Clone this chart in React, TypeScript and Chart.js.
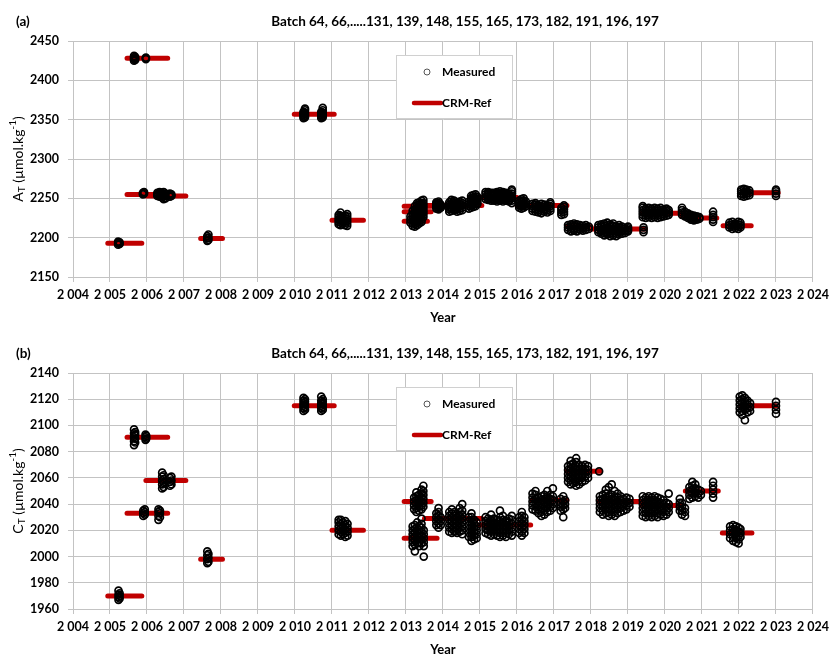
import { useEffect, useRef } from 'react';
import { Chart, registerables } from 'chart.js';

Chart.register(...registerables);

const FONT = 'Lato, "Open Sans", "DejaVu Sans", sans-serif';
const RED = '#c00000';
const GRID = '#c3c3c3';

const panelTitle = 'Batch 64, 66,.....131, 139, 148, 155, 165, 173, 182, 191, 196, 197';
const yearMin = 2004;
const yearMax = 2024;
const legendLabels = ['Measured', 'CRM-Ref'];

// ---------- Panel (a): total alkalinity A_T ----------
const atAxis = [2150, 2450, 50]; // min, max, step

// CRM reference values: [start year, end year, value]
const atReference = [
  [2004.94, 2005.86, 2193],
  [2005.46, 2006.56, 2428],
  [2005.46, 2006.56, 2255],
  [2005.97, 2007.05, 2253],
  [2007.45, 2008.04, 2199],
  [2009.98, 2011.06, 2357],
  [2011.0, 2011.85, 2222],
  [2012.95, 2013.68, 2240],
  [2012.95, 2013.68, 2233],
  [2012.95, 2013.58, 2221],
  [2013.55, 2015.05, 2241],
  [2015.0, 2016.0, 2251],
  [2016.0, 2017.35, 2241],
  [2017.35, 2018.0, 2214],
  [2018.0, 2019.47, 2211],
  [2019.37, 2020.45, 2231],
  [2020.45, 2020.95, 2227],
  [2020.95, 2021.4, 2225],
  [2021.57, 2022.33, 2215],
  [2022.17, 2023.06, 2257],
];

// Measured values: [measurement date (year), [values...]]
const atMeasured = [
  [2005.22, [2191, 2193, 2195]], [2005.26, [2192, 2194]],
  [2005.65, [2425, 2427, 2429, 2431]], [2005.68, [2426, 2428, 2430]], [2005.97, [2427, 2428, 2429]],
  [2005.89, [2255, 2257]], [2005.92, [2256, 2258]],
  [2006.28, [2253, 2255, 2257]], [2006.34, [2252, 2254, 2256, 2258]], [2006.4, [2251, 2253, 2255, 2257]],
  [2006.45, [2249, 2252, 2255, 2258]], [2006.5, [2250, 2253, 2256]],
  [2006.62, [2252, 2254, 2256]], [2006.66, [2253, 2255]],
  [2007.63, [2196, 2199, 2202]], [2007.66, [2197, 2200, 2204]],
  [2010.23, [2352, 2354, 2356, 2358, 2360]], [2010.27, [2353, 2355, 2357, 2359, 2362, 2364]],
  [2010.71, [2352, 2354, 2356, 2358, 2360]], [2010.75, [2353, 2355, 2357, 2359, 2362, 2365]],
  [2011.18, [2217, 2220, 2223, 2226, 2229]], [2011.23, [2216, 2219, 2222, 2225, 2228, 2232]],
  [2011.28, [2218, 2221, 2224, 2227]], [2011.35, [2216, 2219, 2222, 2225, 2228]],
  [2011.41, [2215, 2218, 2221, 2224, 2227, 2230]],
  [2013.12, [2219, 2223, 2227]],
  [2013.18, [2215, 2218, 2221, 2224, 2227, 2230, 2234]],
  [2013.24, [2214, 2217, 2220, 2223, 2226, 2229, 2232, 2236, 2240]],
  [2013.3, [2216, 2219, 2222, 2225, 2228, 2231, 2234, 2237, 2241, 2244]],
  [2013.36, [2218, 2221, 2224, 2227, 2230, 2233, 2236, 2239, 2242, 2245]],
  [2013.42, [2220, 2223, 2226, 2229, 2232, 2235, 2238, 2241, 2244, 2247]],
  [2013.47, [2226, 2229, 2232, 2235, 2238, 2241, 2244, 2248]],
  [2013.82, [2237, 2239, 2241, 2243, 2245]], [2013.88, [2236, 2238, 2240, 2242, 2244, 2246]],
  [2013.94, [2238, 2240, 2242]],
  [2014.17, [2233, 2236, 2239, 2242, 2245]], [2014.23, [2234, 2237, 2240, 2243, 2246, 2248]],
  [2014.3, [2235, 2238, 2241, 2244, 2247]], [2014.38, [2233, 2236, 2239, 2242, 2245]],
  [2014.45, [2234, 2237, 2240, 2243, 2246]], [2014.52, [2235, 2238, 2241, 2244, 2247]],
  [2014.7, [2237, 2240, 2243, 2246]], [2014.76, [2238, 2241, 2244, 2247, 2250, 2253]],
  [2014.82, [2239, 2242, 2245, 2248, 2251, 2254]], [2014.88, [2240, 2243, 2246, 2249, 2252, 2255]],
  [2014.93, [2243, 2246, 2249, 2252]],
  [2015.15, [2249, 2252, 2255, 2258]], [2015.22, [2248, 2250, 2252, 2254, 2256, 2258]],
  [2015.3, [2247, 2249, 2251, 2253, 2255, 2257]], [2015.38, [2247, 2249, 2251, 2253, 2255, 2257]],
  [2015.46, [2246, 2248, 2250, 2252, 2254, 2256, 2258]],
  [2015.54, [2247, 2249, 2251, 2253, 2255, 2257, 2259]],
  [2015.62, [2246, 2248, 2250, 2252, 2254, 2256, 2258]],
  [2015.7, [2247, 2249, 2251, 2253, 2255, 2257]], [2015.78, [2246, 2248, 2250, 2252, 2254, 2256]],
  [2015.86, [2244, 2247, 2250, 2253, 2256, 2259, 2261]],
  [2016.06, [2238, 2241, 2244, 2247]], [2016.12, [2237, 2240, 2243, 2246, 2249]],
  [2016.18, [2238, 2241, 2244, 2247, 2250]], [2016.24, [2240, 2243, 2246]],
  [2016.42, [2234, 2237, 2240, 2243]], [2016.5, [2233, 2236, 2239, 2242, 2244]],
  [2016.58, [2232, 2235, 2238, 2241]], [2016.66, [2231, 2234, 2237, 2240, 2243]],
  [2016.74, [2233, 2236, 2239, 2242]], [2016.82, [2232, 2235, 2238, 2241]],
  [2016.9, [2234, 2237, 2240, 2243, 2245]],
  [2017.2, [2229, 2232, 2235, 2238]], [2017.27, [2230, 2233, 2236, 2239, 2241]],
  [2017.38, [2210, 2213, 2216]], [2017.46, [2208, 2211, 2214, 2217]],
  [2017.54, [2209, 2212, 2215, 2218]], [2017.62, [2208, 2211, 2214, 2217]],
  [2017.7, [2210, 2213, 2216]], [2017.78, [2209, 2212, 2215]], [2017.86, [2210, 2213, 2216]],
  [2017.94, [2211, 2214]],
  [2018.2, [2207, 2210, 2213, 2216]], [2018.28, [2205, 2208, 2211, 2214, 2217]],
  [2018.36, [2203, 2206, 2209, 2212, 2215, 2218]], [2018.44, [2204, 2207, 2210, 2213, 2216, 2219]],
  [2018.52, [2202, 2205, 2208, 2211, 2214, 2217]], [2018.6, [2203, 2206, 2209, 2212, 2215, 2218]],
  [2018.68, [2202, 2205, 2208, 2211, 2214]], [2018.76, [2204, 2207, 2210, 2213, 2216]],
  [2018.84, [2205, 2208, 2211, 2214]], [2018.92, [2206, 2209, 2212]],
  [2019.0, [2208, 2210, 2212, 2214]],
  [2019.42, [2207, 2210, 2213]],
  [2019.4, [2226, 2229, 2232, 2235, 2238, 2240]], [2019.48, [2225, 2228, 2231, 2234, 2237]],
  [2019.56, [2226, 2229, 2232, 2235, 2238]], [2019.64, [2225, 2228, 2231, 2234, 2237]],
  [2019.72, [2226, 2229, 2232, 2235, 2238]], [2019.8, [2225, 2228, 2231, 2234, 2237]],
  [2019.88, [2226, 2229, 2232, 2235, 2238]], [2019.96, [2227, 2230, 2233, 2236]],
  [2020.04, [2228, 2231, 2234, 2237]], [2020.1, [2229, 2232, 2235]],
  [2020.46, [2229, 2232, 2235, 2238]], [2020.54, [2227, 2230, 2233]],
  [2020.62, [2225, 2227, 2229, 2231]], [2020.7, [2223, 2225, 2227, 2229]],
  [2020.78, [2222, 2224, 2226, 2228]], [2020.86, [2223, 2225, 2227]], [2020.93, [2224, 2226]],
  [2021.3, [2220, 2223, 2226, 2229, 2233]],
  [2021.74, [2213, 2216, 2219]], [2021.82, [2211, 2214, 2217, 2220]],
  [2021.9, [2212, 2215, 2218]], [2021.98, [2211, 2214, 2217, 2220]], [2022.04, [2213, 2216, 2219]],
  [2022.06, [2253, 2256, 2259, 2261]], [2022.13, [2252, 2255, 2258, 2262]],
  [2022.2, [2253, 2256, 2259, 2261]], [2022.28, [2254, 2257, 2260]],
  [2023.0, [2253, 2256, 2259, 2261]],
];

// ---------- Panel (b): dissolved inorganic carbon C_T ----------
const ctAxis = [1960, 2140, 20];

const ctReference = [
  [2004.94, 2005.86, 1970],
  [2005.46, 2006.56, 2091],
  [2005.97, 2007.05, 2058],
  [2005.46, 2006.56, 2033],
  [2007.45, 2008.04, 1998],
  [2009.98, 2011.06, 2115],
  [2011.0, 2011.85, 2020],
  [2012.95, 2013.68, 2042],
  [2012.95, 2013.84, 2014],
  [2013.5, 2015.05, 2029],
  [2014.97, 2016.37, 2024],
  [2016.4, 2017.35, 2043],
  [2017.35, 2018.25, 2065],
  [2018.2, 2019.42, 2042],
  [2019.37, 2020.45, 2039],
  [2020.55, 2021.44, 2050],
  [2021.55, 2022.35, 2018],
  [2022.06, 2023.0, 2115],
];

const ctMeasured = [
  [2005.23, [1967, 1969, 1971, 1974]], [2005.26, [1968, 1970, 1972]],
  [2005.65, [2085, 2088, 2091, 2094, 2097]], [2005.68, [2087, 2090, 2093, 2095]],
  [2005.96, [2089, 2091, 2093]], [2005.98, [2090, 2092]],
  [2006.41, [2052, 2055, 2058, 2061, 2064]], [2006.45, [2053, 2056, 2059, 2062]],
  [2006.62, [2054, 2057, 2060]], [2006.66, [2055, 2058, 2061]],
  [2005.9, [2031, 2033, 2035]], [2005.94, [2032, 2034, 2036]],
  [2006.31, [2028, 2031, 2034, 2036]], [2006.35, [2030, 2033, 2035]],
  [2007.63, [1995, 1998, 2001, 2004]], [2007.66, [1996, 1999, 2002]],
  [2010.23, [2111, 2113, 2115, 2117, 2119, 2121]], [2010.27, [2112, 2114, 2116, 2118, 2120]],
  [2010.71, [2111, 2113, 2115, 2117, 2119, 2122]], [2010.75, [2112, 2114, 2116, 2118, 2120]],
  [2011.18, [2017, 2020, 2023, 2026, 2028]], [2011.24, [2016, 2019, 2022, 2025, 2028]],
  [2011.3, [2017, 2020, 2023, 2026]], [2011.36, [2015, 2018, 2021, 2024, 2027]],
  [2011.42, [2016, 2019, 2022, 2025]],
  [2013.22, [2036, 2039, 2042, 2045]], [2013.28, [2034, 2037, 2040, 2043, 2046, 2049]],
  [2013.35, [2035, 2038, 2041, 2044, 2047]], [2013.42, [2036, 2039, 2042, 2045, 2048, 2051]],
  [2013.47, [2038, 2041, 2044, 2047, 2050, 2054]],
  [2013.18, [2008, 2011, 2014, 2017, 2020, 2023]],
  [2013.24, [2004, 2009, 2012, 2015, 2018, 2021, 2024]],
  [2013.3, [2010, 2013, 2016, 2019, 2022, 2026]],
  [2013.36, [2008, 2011, 2014, 2017, 2020, 2023]],
  [2013.42, [2010, 2013, 2016, 2019, 2022, 2025, 2029]],
  [2013.48, [2000, 2008, 2011, 2014, 2017, 2020]],
  [2013.82, [2024, 2027, 2030, 2033]], [2013.88, [2022, 2025, 2028, 2031, 2034, 2037]],
  [2013.94, [2024, 2027, 2030]],
  [2014.17, [2019, 2022, 2025, 2028, 2031, 2034]], [2014.24, [2018, 2021, 2024, 2027, 2030, 2033, 2036]],
  [2014.31, [2019, 2022, 2025, 2028, 2031, 2034]], [2014.38, [2018, 2021, 2024, 2027, 2030]],
  [2014.45, [2019, 2022, 2025, 2028, 2031, 2034, 2037]],
  [2014.52, [2017, 2020, 2023, 2026, 2029, 2032, 2035, 2040]],
  [2014.7, [2015, 2018, 2021, 2024, 2027, 2030]],
  [2014.77, [2012, 2015, 2018, 2021, 2024, 2027, 2030, 2033]],
  [2014.84, [2013, 2016, 2019, 2022, 2025, 2028]], [2014.91, [2014, 2017, 2020, 2023, 2026]],
  [2015.15, [2018, 2021, 2024, 2027, 2030]], [2015.22, [2017, 2020, 2023, 2026, 2029]],
  [2015.3, [2016, 2019, 2022, 2025, 2028, 2032]], [2015.38, [2017, 2020, 2023, 2026, 2029]],
  [2015.46, [2016, 2019, 2022, 2025, 2028]], [2015.54, [2015, 2018, 2021, 2024, 2027, 2030, 2035]],
  [2015.62, [2016, 2019, 2022, 2025, 2028, 2031]], [2015.7, [2015, 2018, 2021, 2024, 2027]],
  [2015.78, [2017, 2020, 2023, 2026, 2029]], [2015.86, [2016, 2019, 2022, 2025, 2028, 2031]],
  [2016.06, [2018, 2021, 2024, 2027, 2030]], [2016.13, [2016, 2019, 2022, 2025, 2028, 2031, 2034]],
  [2016.2, [2018, 2021, 2024, 2027, 2030]],
  [2016.42, [2036, 2039, 2042, 2045, 2048]], [2016.5, [2035, 2038, 2041, 2044, 2047, 2050]],
  [2016.58, [2033, 2036, 2039, 2042, 2045]], [2016.66, [2031, 2034, 2037, 2040, 2043, 2046]],
  [2016.74, [2032, 2035, 2038, 2041, 2044, 2047]], [2016.82, [2034, 2037, 2040, 2043, 2046, 2050]],
  [2016.9, [2035, 2038, 2041, 2044, 2047]], [2016.97, [2037, 2040, 2043, 2046, 2052]],
  [2017.18, [2035, 2038, 2041, 2044]], [2017.25, [2030, 2036, 2039, 2042, 2046]],
  [2017.3, [2037, 2040, 2043]],
  [2017.38, [2057, 2060, 2063, 2066, 2069]], [2017.45, [2055, 2058, 2061, 2064, 2067, 2070, 2073]],
  [2017.52, [2056, 2059, 2062, 2065, 2068, 2071]],
  [2017.6, [2054, 2057, 2060, 2063, 2066, 2069, 2072, 2075]],
  [2017.68, [2055, 2058, 2061, 2064, 2067, 2070]], [2017.76, [2057, 2060, 2063, 2066, 2069]],
  [2017.84, [2058, 2061, 2064, 2067, 2070]], [2017.92, [2060, 2063, 2066, 2069]],
  [2018.22, [2065]],
  [2018.24, [2034, 2037, 2040, 2043, 2046]], [2018.32, [2032, 2035, 2038, 2041, 2044, 2047]],
  [2018.4, [2033, 2036, 2039, 2042, 2045, 2048, 2051]],
  [2018.48, [2031, 2034, 2037, 2040, 2043, 2046, 2053]],
  [2018.56, [2032, 2035, 2038, 2041, 2044, 2047, 2055]],
  [2018.64, [2031, 2034, 2037, 2040, 2043, 2046, 2050]],
  [2018.72, [2033, 2036, 2039, 2042, 2045, 2048]], [2018.8, [2034, 2037, 2040, 2043, 2046]],
  [2018.88, [2035, 2038, 2041, 2044]], [2018.96, [2036, 2039, 2042, 2045]],
  [2019.04, [2038, 2041, 2044]],
  [2019.4, [2031, 2034, 2037, 2040, 2043, 2046]], [2019.48, [2030, 2033, 2036, 2039, 2042, 2045]],
  [2019.56, [2031, 2034, 2037, 2040, 2043, 2046]], [2019.64, [2030, 2033, 2036, 2039, 2042, 2045]],
  [2019.72, [2031, 2034, 2037, 2040, 2043, 2046]], [2019.8, [2030, 2033, 2036, 2039, 2042, 2045]],
  [2019.88, [2032, 2035, 2038, 2041, 2044]], [2019.96, [2031, 2034, 2037, 2040, 2043]],
  [2020.04, [2032, 2035, 2038, 2041]], [2020.1, [2034, 2037, 2040, 2048]],
  [2020.4, [2035, 2038, 2041, 2044]], [2020.46, [2032, 2035, 2038, 2041]],
  [2020.54, [2031, 2034, 2037]],
  [2020.66, [2044, 2047, 2050, 2053]], [2020.74, [2045, 2048, 2051, 2054, 2057]],
  [2020.82, [2046, 2049, 2052, 2055]], [2020.9, [2045, 2048, 2051]], [2020.97, [2047, 2050]],
  [2021.3, [2045, 2048, 2051, 2054, 2057]],
  [2021.76, [2014, 2017, 2020, 2023]], [2021.84, [2012, 2015, 2018, 2021, 2024]],
  [2021.92, [2011, 2014, 2017, 2020, 2023]], [2021.99, [2010, 2013, 2016, 2019, 2022]],
  [2022.04, [2015, 2018, 2021]],
  [2022.02, [2110, 2113, 2116, 2119, 2122]], [2022.09, [2108, 2111, 2114, 2117, 2120, 2123]],
  [2022.16, [2104, 2112, 2115, 2118, 2121]], [2022.23, [2110, 2113, 2116, 2119]],
  [2022.3, [2111, 2114, 2117]],
  [2023.0, [2109, 2112, 2115, 2118]],
];

const CANVAS_W = 834;
const CANVAS_H = 332;
const PLOT_TOP = 41;
const PLOT_BOTTOM = 277;
const PLOT_LEFT = 73;
const PLOT_RIGHT = 815;

function withSpaceSeparator(v: number) {
  return String(Math.round(v)).replace(/\B(?=(\d{3})+(?!\d))/g, ' ');
}

function Panel({ tag, symbol, measured, reference, axis, top }: any) {
  const canvasRef = useRef<HTMLCanvasElement>(null);

  useEffect(() => {
    const points: any[] = [];
    measured.forEach(([year, values]: any) => {
      values.forEach((v: number) => points.push({ x: year, y: v }));
    });
    const refPoints: any[] = [];
    reference.forEach(([s, e, v]: number[]) => {
      refPoints.push({ x: s, y: v }, { x: e, y: v }, { x: e, y: null });
    });

    const decor = {
      id: 'decor',
      afterDraw(chart: any) {
        const { ctx, chartArea: ca } = chart;
        ctx.save();
        ctx.fillStyle = '#000';
        ctx.textBaseline = 'middle';

        // panel tag and title
        ctx.font = `bold 13.5px ${FONT}`;
        ctx.textAlign = 'left';
        ctx.fillText(tag, 16, 22);
        ctx.textAlign = 'center';
        ctx.fillText(panelTitle, (ca.left + ca.right) / 2 + 22, 22);

        // y-axis title with subscript / superscript
        const big = `14px ${FONT}`;
        const small = `10px ${FONT}`;
        const parts = [
          { t: symbol, f: big, dy: 0 },
          { t: 'T', f: small, dy: 3.5 },
          { t: ' (µmol.kg', f: big, dy: 0 },
          { t: '-1', f: small, dy: -5 },
          { t: ')', f: big, dy: 0 },
        ];
        let total = 0;
        parts.forEach((p) => {
          ctx.font = p.f;
          total += ctx.measureText(p.t).width;
        });
        ctx.translate(18, (ca.top + ca.bottom) / 2);
        ctx.rotate(-Math.PI / 2);
        ctx.textAlign = 'left';
        let px = -total / 2;
        parts.forEach((p) => {
          ctx.font = p.f;
          ctx.fillText(p.t, px, p.dy);
          px += ctx.measureText(p.t).width;
        });
        ctx.setTransform(1, 0, 0, 1, 0, 0);

        // legend box
        const lx = ca.left + 323;
        const ly = ca.top + 14;
        ctx.fillStyle = '#fff';
        ctx.fillRect(lx, ly, 116, 63);
        ctx.strokeStyle = '#d0d0d0';
        ctx.lineWidth = 1;
        ctx.strokeRect(lx + 0.5, ly + 0.5, 116, 63);

        ctx.beginPath();
        ctx.arc(ca.left + 354, ca.top + 31, 3, 0, Math.PI * 2);
        ctx.strokeStyle = '#555';
        ctx.stroke();

        ctx.beginPath();
        ctx.moveTo(ca.left + 341, ca.top + 62);
        ctx.lineTo(ca.left + 368, ca.top + 62);
        ctx.strokeStyle = RED;
        ctx.lineWidth = 4.5;
        ctx.lineCap = 'round';
        ctx.stroke();

        ctx.fillStyle = '#000';
        ctx.font = `bold 12px ${FONT}`;
        ctx.textAlign = 'left';
        ctx.fillText(legendLabels[0], ca.left + 369, ca.top + 31);
        ctx.fillText(legendLabels[1], ca.left + 369, ca.top + 62);
        ctx.restore();
      },
    };

    const tickFont = { family: FONT, size: 12.5, weight: 'bold' as const };

    const chart = new Chart(canvasRef.current as HTMLCanvasElement, {
      type: 'scatter',
      data: {
        datasets: [
          {
            label: legendLabels[0],
            data: points,
            showLine: false,
            pointStyle: 'circle',
            pointRadius: 3.5,
            pointHoverRadius: 3.5,
            pointBorderWidth: 1.7,
            borderColor: '#000',
            backgroundColor: 'rgba(0,0,0,0)',
          },
          {
            label: legendLabels[1],
            data: refPoints,
            showLine: true,
            spanGaps: false,
            borderColor: RED,
            backgroundColor: RED,
            borderWidth: 5,
            borderCapStyle: 'round',
            pointRadius: 0,
            pointHoverRadius: 0,
          },
        ],
      } as any,
      options: {
        responsive: false,
        animation: false,
        events: [],
        layout: { padding: { top: PLOT_TOP, right: CANVAS_W - PLOT_RIGHT, left: 0, bottom: 0 } },
        plugins: {
          legend: { display: false },
          title: { display: false },
          tooltip: { enabled: false },
        },
        scales: {
          x: {
            type: 'linear',
            min: yearMin,
            max: yearMax,
            ticks: {
              stepSize: 1,
              autoSkip: false,
              maxRotation: 0,
              color: '#000',
              font: tickFont,
              padding: 5,
              callback: (v: any) => withSpaceSeparator(Number(v)),
            },
            grid: { color: GRID, lineWidth: 1, tickLength: 5 },
            border: { color: GRID },
            title: {
              display: true,
              text: 'Year',
              color: '#000',
              font: { family: FONT, size: 13, weight: 'bold' },
              padding: { top: 0, bottom: 6.5 },
            },
            afterFit: (s: any) => {
              s.height = CANVAS_H - PLOT_BOTTOM;
            },
          },
          y: {
            type: 'linear',
            min: axis[0],
            max: axis[1],
            ticks: {
              stepSize: axis[2],
              color: '#000',
              font: tickFont,
              padding: 9,
              callback: (v: any) => String(v),
            },
            grid: { color: GRID, lineWidth: 1, tickLength: 5 },
            border: { color: GRID },
            afterFit: (s: any) => {
              s.width = PLOT_LEFT;
            },
          },
        },
      } as any,
      plugins: [decor],
    });
    return () => chart.destroy();
  }, []);

  return (
    <canvas
      ref={canvasRef}
      width={CANVAS_W}
      height={CANVAS_H}
      style={{ position: 'absolute', left: 0, top, display: 'block' }}
    />
  );
}

export default function App() {
  return (
    <div
      style={{
        position: 'fixed',
        left: 0,
        top: 0,
        width: 834,
        height: 655,
        overflow: 'hidden',
        background: '#fff',
      }}
    >
      <Panel tag="(a)" symbol="A" measured={atMeasured} reference={atReference} axis={atAxis} top={0} />
      <Panel tag="(b)" symbol="C" measured={ctMeasured} reference={ctReference} axis={ctAxis} top={332} />
    </div>
  );
}
